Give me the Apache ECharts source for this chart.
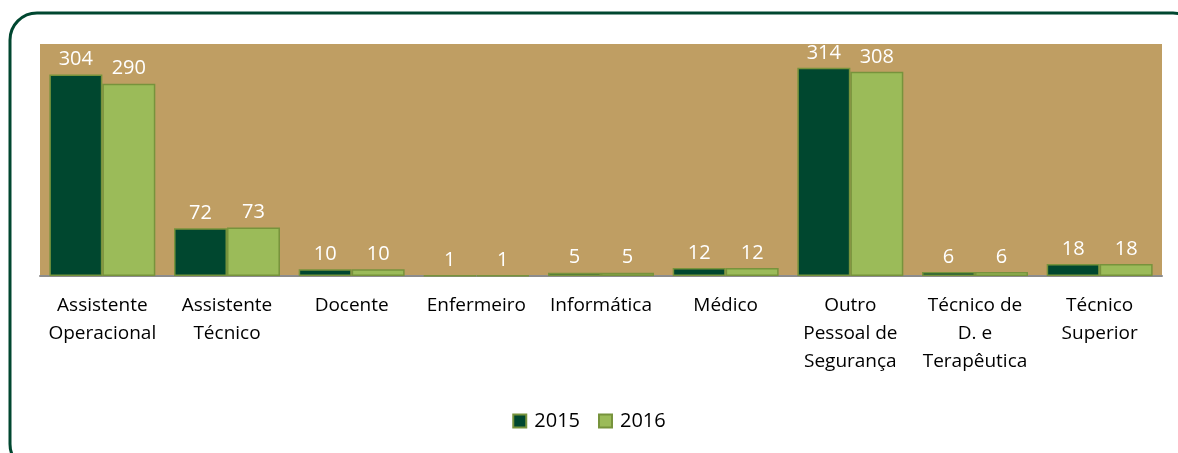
<!DOCTYPE html>
<html>
<head>
<meta charset="utf-8">
<script src="https://cdn.jsdelivr.net/npm/echarts@6/dist/echarts.min.js"></script>
<style>
  html, body { margin: 0; padding: 0; background: #fff; }
  #chart { width: 1178px; height: 453px; }
</style>
</head>
<body>
<div id="chart"></div>
<script>
// categories as shown under the axis (line breaks as in the picture)
const categories = [
  'Assistente\nOperacional',
  'Assistente\nTécnico',
  'Docente',
  'Enfermeiro',
  'Informática',
  'Médico',
  'Outro\nPessoal de\nSegurança',
  'Técnico de\nD. e\nTerapêutica',
  'Técnico\nSuperior'
];
const values2015 = [304, 72, 10, 1, 5, 12, 314, 6, 18];
const values2016 = [290, 73, 10, 1, 5, 12, 308, 6, 18];

const font = '"Open Sans", "Noto Sans", sans-serif';

const chart = echarts.init(document.getElementById('chart'), null, { renderer: 'canvas' });

const labelStyle = {
  show: true,
  position: 'top',
  distance: 5,
  color: '#ffffff',
  fontFamily: font,
  fontSize: 20
};

chart.setOption({
  animation: false,
  backgroundColor: '#ffffff',
  graphic: [
    {
      type: 'rect',
      shape: { x: 10, y: 13, width: 1190, height: 458, r: 27 },
      style: { fill: 'none', stroke: '#004730', lineWidth: 3 },
      z: 100
    }
  ],
  grid: {
    left: 40,
    right: 16,
    top: 44,
    bottom: 177,
    show: true,
    backgroundColor: '#BF9E63',
    borderWidth: 0
  },
  legend: {
    top: 406,
    left: 'center',
    itemWidth: 13,
    itemHeight: 13,
    itemGap: 18,
    icon: 'rect',
    textStyle: { fontFamily: font, fontSize: 20, color: '#000', padding: [0, 0, 0, 3] },
    data: ['2015', '2016']
  },
  xAxis: {
    type: 'category',
    data: categories,
    axisLine: { lineStyle: { color: '#8c8c8c', width: 2 } },
    axisTick: { show: false },
    axisLabel: {
      interval: 0,
      margin: 16,
      color: '#000',
      fontFamily: font,
      fontSize: 19,
      lineHeight: 28
    }
  },
  yAxis: {
    type: 'value',
    min: 0,
    max: 350,
    show: false,
    splitLine: { show: false }
  },
  series: [
    {
      name: '2015',
      type: 'bar',
      data: values2015,
      barGap: '0%',
      barCategoryGap: '15%',
      itemStyle: { color: '#00472F', borderColor: '#77933C', borderWidth: 1.5 },
      label: labelStyle
    },
    {
      name: '2016',
      type: 'bar',
      data: values2016,
      itemStyle: { color: '#9BBB59', borderColor: '#77933C', borderWidth: 1.5 },
      label: labelStyle
    }
  ]
});
</script>
</body>
</html>
